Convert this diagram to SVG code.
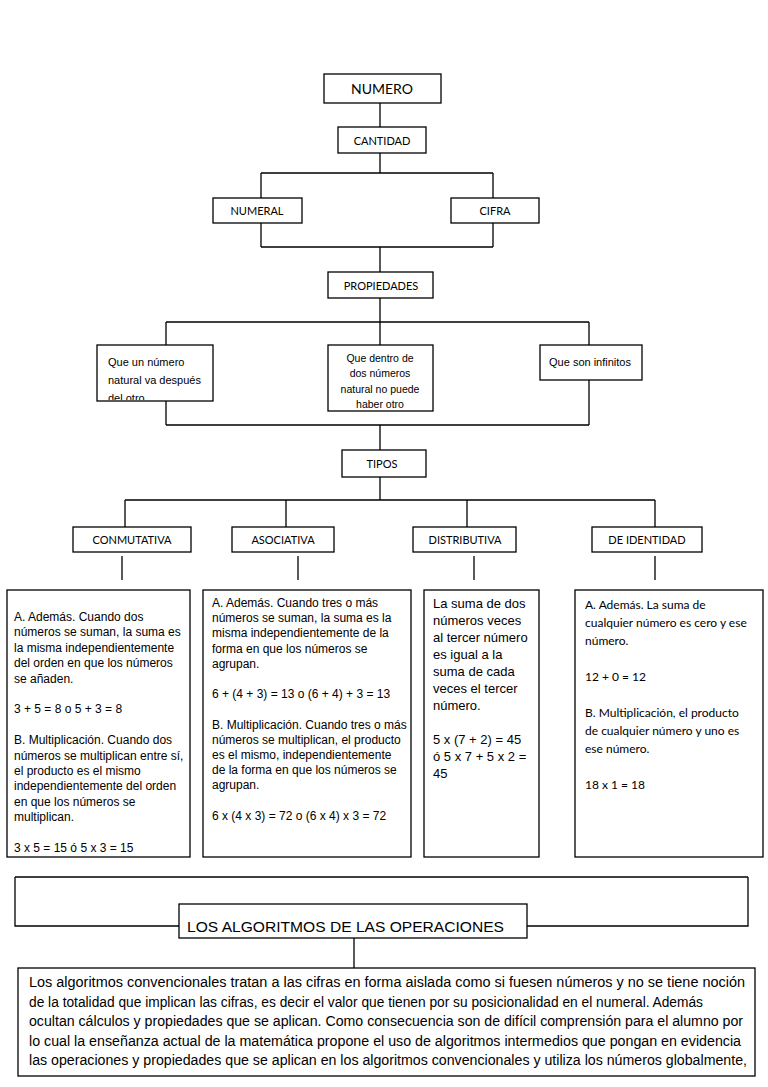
<svg xmlns="http://www.w3.org/2000/svg" width="768" height="1087" viewBox="0 0 768 1087">
<style>
.box{fill:#fff;stroke:#000;stroke-width:1.3}
.conn{fill:none;stroke:#000;stroke-width:1.3}
.cal{font-family:Lato,"Open Sans","Liberation Sans",sans-serif;fill:#000}
.ar{font-family:"Liberation Sans",Arial,sans-serif;fill:#000}
.c{text-anchor:middle}
.s11{font-size:11px}
.s12{font-size:12px}
</style>
<defs>
<clipPath id="clipQ"><rect x="97" y="345" width="116" height="55"/></clipPath>
</defs>
<rect width="768" height="1087" fill="#fff"/>
<g id="connectors" class="conn">
<path d="M380,103V127"/>
<path d="M380,153V173M261,173H493M261,173V198M493,173V198"/>
<path d="M261,223V247M493,223V247M261,247H493M380,247V272"/>
<path d="M380,298V322M166,322H589M166,322V345M380,322V345M589,322V345"/>
<path d="M166,401V425M589,380V425M166,425H589M380,425V450"/>
<path d="M380,477V500M125,500H655M125,500V527M286,500V527M467,500V527M655,500V527"/>
<path d="M122,556V580M298,556V580M474,556V580M655,556V580"/>
<path d="M15,877H748M15,877V926H179M527,926H748V877M354,938V968"/>
</g>
<g id="numero"><rect class="box" x="324" y="74" width="117" height="29"/><text class="cal c" x="382" y="94" font-size="14">NUMERO</text></g>
<g id="cantidad"><rect class="box" x="338" y="127" width="88" height="26"/><text class="cal c s11" x="382" y="145">CANTIDAD</text></g>
<g id="numeral"><rect class="box" x="213" y="198" width="89" height="25"/><text class="cal c s11" x="257" y="215">NUMERAL</text></g>
<g id="cifra"><rect class="box" x="451" y="198" width="88" height="25"/><text class="cal c s11" x="495" y="215">CIFRA</text></g>
<g id="propiedades"><rect class="box" x="328" y="272" width="105" height="26"/><text class="cal c s11" x="381" y="290">PROPIEDADES</text></g>
<g id="prop1"><rect class="box" x="97" y="345" width="116" height="56"/>
<g clip-path="url(#clipQ)"><text class="ar s11" x="108" y="366">Que un número</text><text class="ar s11" x="108" y="384">natural va después</text><text class="ar s11" x="108" y="402">del otro</text></g></g>
<g id="prop2"><rect class="box" x="328" y="345" width="105" height="66"/>
<text class="ar c" font-size="10.5" x="380" y="362">Que dentro de</text><text class="ar c" font-size="10.5" x="380" y="377">dos números</text><text class="ar c" font-size="10.5" x="380" y="393">natural no puede</text><text class="ar c" font-size="10.5" x="380" y="408">haber otro</text></g>
<g id="prop3"><rect class="box" x="540" y="345" width="102" height="35"/><text class="ar c s11" x="590" y="366">Que son infinitos</text></g>
<g id="tipos"><rect class="box" x="342" y="450" width="84" height="27"/><text class="cal c s11" x="382" y="468">TIPOS</text></g>
<g id="conmutativa"><rect class="box" x="73" y="527" width="118" height="25"/><text class="cal c s11" x="132" y="544">CONMUTATIVA</text></g>
<g id="asociativa"><rect class="box" x="232" y="527" width="102" height="25"/><text class="cal c s11" x="283" y="544">ASOCIATIVA</text></g>
<g id="distributiva"><rect class="box" x="413" y="527" width="103" height="25"/><text class="cal c s11" x="465" y="544">DISTRIBUTIVA</text></g>
<g id="identidad"><rect class="box" x="592" y="527" width="110" height="25"/><text class="cal c s11" x="647" y="544">DE IDENTIDAD</text></g>
<g id="txt-conmutativa"><rect class="box" x="7" y="590" width="183" height="267"/>
<text class="ar s12" x="14" y="621">A. Además. Cuando dos</text>
<text class="ar s12" x="14" y="636.4">números se suman, la suma es</text>
<text class="ar s12" x="14" y="651.8">la misma independientemente</text>
<text class="ar s12" x="14" y="667.2">del orden en que los números</text>
<text class="ar s12" x="14" y="682.6">se añaden.</text>
<text class="ar s12" x="14" y="713.4">3 + 5 = 8 o 5 + 3 = 8</text>
<text class="ar s12" x="14" y="744.2">B. Multiplicación. Cuando dos</text>
<text class="ar s12" x="14" y="759.6">números se multiplican entre sí,</text>
<text class="ar s12" x="14" y="775">el producto es el mismo</text>
<text class="ar s12" x="14" y="790.4">independientemente del orden</text>
<text class="ar s12" x="14" y="805.8">en que los números se</text>
<text class="ar s12" x="14" y="821.2">multiplican.</text>
<text class="ar s12" x="14" y="852">3 x 5 = 15 ó 5 x 3 = 15</text>
</g>
<g id="txt-asociativa"><rect class="box" x="203" y="590" width="208" height="267"/>
<text class="ar s12" x="212" y="607">A. Además. Cuando tres o más</text>
<text class="ar s12" x="212" y="622.2">números se suman, la suma es la</text>
<text class="ar s12" x="212" y="637.4">misma independientemente de la</text>
<text class="ar s12" x="212" y="652.6">forma en que los números se</text>
<text class="ar s12" x="212" y="667.8">agrupan.</text>
<text class="ar s12" x="212" y="698.2">6 + (4 + 3) = 13 o (6 + 4) + 3 = 13</text>
<text class="ar s12" x="212" y="728.6">B. Multiplicación. Cuando tres o más</text>
<text class="ar s12" x="212" y="743.8">números se multiplican, el producto</text>
<text class="ar s12" x="212" y="759">es el mismo, independientemente</text>
<text class="ar s12" x="212" y="774.2">de la forma en que los números se</text>
<text class="ar s12" x="212" y="789.4">agrupan.</text>
<text class="ar s12" x="212" y="819.8">6 x (4 x 3) = 72 o (6 x 4) x 3 = 72</text>
</g>
<g id="txt-distributiva" class="ar" font-size="13"><rect class="box" x="424" y="590" width="115" height="267"/>
<text x="433" y="608">La suma de dos</text>
<text x="433" y="625">números veces</text>
<text x="433" y="642">al tercer número</text>
<text x="433" y="659">es igual a la</text>
<text x="433" y="676">suma de cada</text>
<text x="433" y="693">veces el tercer</text>
<text x="433" y="710">número.</text>
<text x="433" y="744">5 x (7 + 2) = 45</text>
<text x="433" y="761">ó 5 x 7 + 5 x 2 =</text>
<text x="433" y="778">45</text>
</g>
<g id="txt-identidad" class="cal" font-size="12"><rect class="box" x="575" y="590" width="188" height="267"/>
<text x="585" y="609">A. Además. La suma de</text>
<text x="585" y="627">cualquier número es cero y ese</text>
<text x="585" y="645">número.</text>
<text x="585" y="681">12 + 0 = 12</text>
<text x="585" y="717">B. Multiplicación, el producto</text>
<text x="585" y="735">de cualquier número y uno es</text>
<text x="585" y="753">ese número.</text>
<text x="585" y="789">18 x 1 = 18</text>
</g>
<g id="algoritmos"><rect class="box" x="179" y="904" width="348" height="34"/><text class="ar" font-size="15" x="187" y="932" textLength="317" lengthAdjust="spacingAndGlyphs">LOS ALGORITMOS DE LAS OPERACIONES</text></g>
<g id="parrafo" class="ar" font-size="14"><rect class="box" x="18" y="968" width="737" height="108"/>
<text x="29" y="987" textLength="716" lengthAdjust="spacingAndGlyphs">Los algoritmos convencionales  tratan a las cifras en forma aislada como si fuesen números  y no se tiene noción</text>
<text x="29" y="1006.5" textLength="674" lengthAdjust="spacingAndGlyphs">de la totalidad que implican las cifras, es decir el valor que tienen por su posicionalidad en el numeral. Además</text>
<text x="29" y="1026" textLength="714" lengthAdjust="spacingAndGlyphs">ocultan cálculos y propiedades que se aplican. Como consecuencia son de difícil comprensión para el alumno por</text>
<text x="29" y="1045.5" textLength="712" lengthAdjust="spacingAndGlyphs">lo cual la enseñanza actual de la matemática propone el uso de algoritmos intermedios que pongan en evidencia</text>
<text x="29" y="1065" textLength="718" lengthAdjust="spacingAndGlyphs">las operaciones y propiedades que se aplican en los algoritmos convencionales y utiliza los números globalmente,</text>
</g>
</svg>
